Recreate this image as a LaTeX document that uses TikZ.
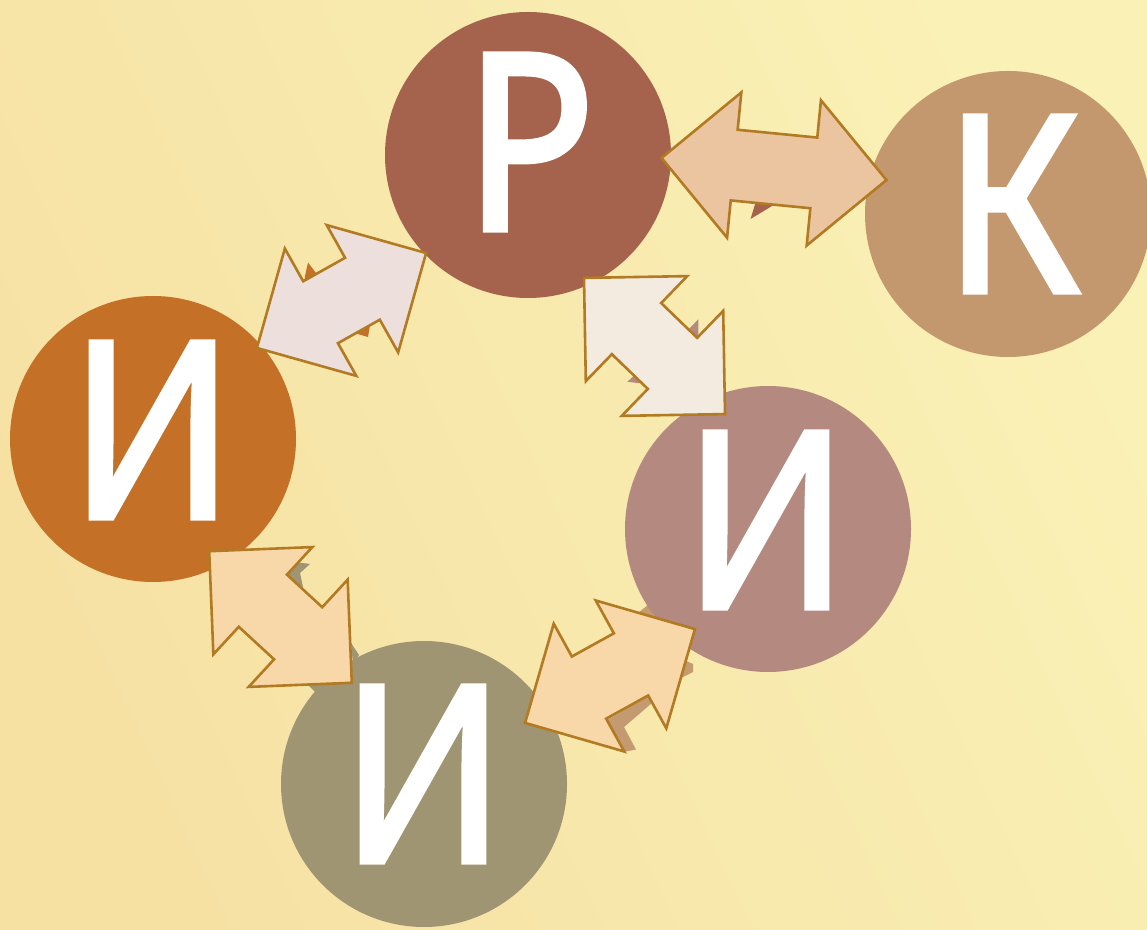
\documentclass[tikz,border=0pt]{standalone}
\usepackage{fontspec}
\newfontfamily\letterfont[FakeBold=2.5]{Noto Sans}
\usetikzlibrary{calc}
\pgfdeclarelayer{bg}
\pgfsetlayers{bg,main}
\definecolor{bgL}{HTML}{F6E1A3}
\definecolor{bgR}{HTML}{FAF1B6}
\definecolor{cP}{HTML}{A5634D}
\definecolor{cK}{HTML}{C3986E}
\definecolor{cIa}{HTML}{C47127}
\definecolor{cIb}{HTML}{B48A80}
\definecolor{cIc}{HTML}{A09572}
\definecolor{cSh}{HTML}{C49A70}
\definecolor{arrowline}{HTML}{B27A22}
\definecolor{fA}{HTML}{EAC5A0}
\definecolor{fB}{HTML}{EDDFDC}
\definecolor{fC}{HTML}{F3EBE0}
\definecolor{fD}{HTML}{F8D8A8}
\newcommand\arrowpath[1]{(-#1-73,0) -- (-#1,73) -- (-#1,35.5) -- (#1,35.5) -- (#1,73) -- (#1+73,0) -- (#1,-73) -- (#1,-35.5) -- (-#1,-35.5) -- (-#1,-73) -- cycle}
\begin{document}
\begin{tikzpicture}[x=1pt,y=1pt,
  disc/.style={circle, minimum size=286pt, inner sep=0pt, draw=none},
  lettertext/.style={text=white, inner sep=0pt, xscale=0.88, font=\letterfont\fontsize{245}{245}\selectfont},
  blockarrow/.style={draw=arrowline, line width=2.6pt, line join=miter}]
\useasboundingbox (0,0) rectangle (1147,929);
\begin{pgfonlayer}{bg}
\shade[left color=bgL, right color=bgR, shading angle=115] (0,0) rectangle (1147,929);
\end{pgfonlayer}
% circles
\node[disc, fill=cP]  (P)  at (528,774) {};
\node[disc, fill=cK]  (K)  at (1008,715) {};
\node[disc, fill=cIa] (I1) at (153,490) {};
\node[disc, fill=cIb] (I2) at (768,400) {};
\node[disc, fill=cIc] (I3) at (424,145) {};
% letters
\node[lettertext] (tP)  at ($(P)+(2,13)$)  {Р};
\node[lettertext] (tK)  at ($(K)+(4,10)$)  {К};
\node[lettertext] (tI1) at ($(I1)+(-1,9)$) {И};
\node[lettertext] (tI2) at ($(I2)+(-2,9)$) {И};
\node[lettertext] (tI3) at ($(I3)+(-1,10)$) {И};
% arrow centres
\coordinate (a1) at ($($(P)!0.5!(K)$)+(6,15.5)$);
\coordinate (a2) at ($($(I1)!0.5!(P)$)+(1,-3.5)$);
\coordinate (a3) at ($($(P)!0.5!(I2)$)+(6.5,-4)$);
\coordinate (a4) at ($($(I1)!0.5!(I3)$)+(-8,-5.5)$);
\coordinate (a5) at ($($(I3)!0.5!(I2)$)+(14,-19.5)$);
% shadows
\begin{pgfonlayer}{bg}
\fill[cP] (750.5,710) -- (757,731) -- (782,729) -- cycle;
\fill[cIa] (308,666.5) -- (316,656) -- (318,649) -- (304,644) -- (305,653) -- cycle;
\fill[cIa] (356,595.5) -- (368,592) -- (370,604) -- cycle;
\fill[cIb] (698.3,609.7) -- (688,599) -- (698.5,591) -- cycle;
\fill[cIb] (627.3,547.3) -- (636,555) -- (642,549) -- (639.3,545.7) -- cycle;
\fill[cIc] (295,367) -- (310,365) -- (300,356) -- (303,342) -- (280,357) -- cycle;
\fill[cIc] (351,286) -- (359,274) -- (353,265) -- cycle;
\fill[cIc] (308,244) -- (323,244) -- (315,237) -- cycle;
\fill[cSh] (607,209) -- (649,233) -- (652,226) -- (624,202) -- (636,179.5) -- (623,177) -- cycle;
\fill[cSh] (684,269) -- (693,265) -- (693,257) -- (681,251) -- cycle;
\fill[cSh] (638,316) -- (648,324) -- (655,311.5) -- cycle;
\end{pgfonlayer}
% block arrows
\begin{scope}[shift={(a1)}, rotate=-5.6]
\draw[blockarrow, fill=fA] \arrowpath{40};
\end{scope}
\begin{scope}[shift={(a2)}, rotate=29.3]
\draw[blockarrow, fill=fB] \arrowpath{24};
\end{scope}
\begin{scope}[shift={(a3)}, rotate=-44]
\draw[blockarrow, fill=fC] \arrowpath{25};
\end{scope}
\begin{scope}[shift={(a4)}, rotate=-42.7]
\draw[blockarrow, fill=fD] \arrowpath{24};
\end{scope}
\begin{scope}[shift={(a5)}, rotate=28.9]
\draw[blockarrow, fill=fD] \arrowpath{24};
\end{scope}
\end{tikzpicture}
\end{document}
